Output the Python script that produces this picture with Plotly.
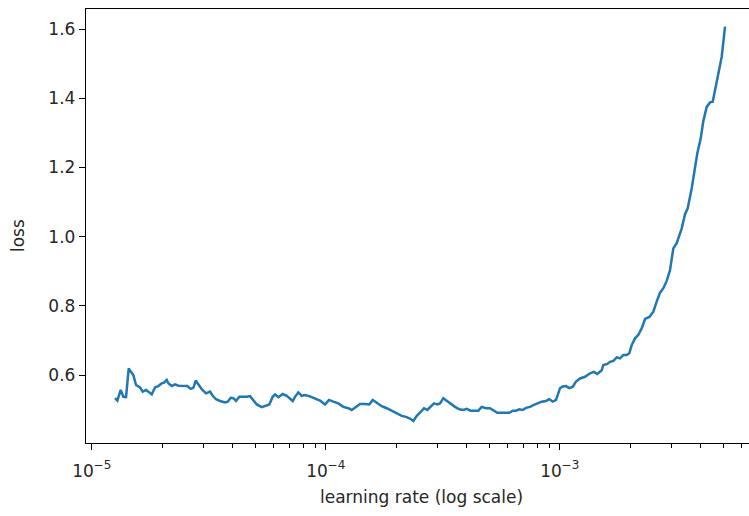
import plotly.graph_objects as go

# Learning-rate range test: loss recorded at each learning rate
learning_rate = [
    1.258e-5, 1.287e-5, 1.330e-5, 1.365e-5, 1.402e-5, 1.439e-5, 1.468e-5, 1.506e-5,
    1.547e-5, 1.609e-5, 1.652e-5, 1.707e-5, 1.746e-5, 1.805e-5, 1.865e-5, 1.926e-5,
    1.992e-5, 2.037e-5, 2.092e-5, 2.125e-5, 2.197e-5, 2.270e-5, 2.345e-5, 2.463e-5,
    2.562e-5, 2.649e-5, 2.718e-5, 2.783e-5, 2.855e-5, 2.952e-5, 3.080e-5, 3.204e-5,
    3.290e-5, 3.398e-5, 3.535e-5, 3.713e-5, 3.813e-5, 3.927e-5, 4.029e-5, 4.138e-5,
    4.275e-5, 4.420e-5, 4.598e-5, 4.750e-5, 4.906e-5, 5.073e-5, 5.329e-5, 5.505e-5,
    5.741e-5, 5.936e-5, 6.072e-5, 6.272e-5, 6.550e-5, 6.813e-5, 6.990e-5, 7.228e-5,
    7.393e-5, 7.637e-5, 7.896e-5, 8.156e-5, 8.510e-5, 9.000e-5, 9.455e-5, 9.931e-5,
    1.033e-4, 1.078e-4, 1.132e-4, 1.189e-4, 1.249e-4, 1.291e-4, 1.347e-4, 1.402e-4,
    1.472e-4, 1.536e-4, 1.588e-4, 1.652e-4, 1.735e-4, 1.823e-4, 1.915e-4, 2.012e-4,
    2.113e-4, 2.203e-4, 2.292e-4, 2.368e-4, 2.449e-4, 2.529e-4, 2.630e-4, 2.718e-4,
    2.810e-4, 2.903e-4, 2.999e-4, 3.080e-4, 3.181e-4, 3.289e-4, 3.420e-4, 3.569e-4,
    3.723e-4, 3.873e-4, 4.005e-4, 4.165e-4, 4.345e-4, 4.488e-4, 4.641e-4, 4.842e-4,
    5.036e-4, 5.238e-4, 5.411e-4, 5.650e-4, 5.895e-4, 6.089e-4, 6.296e-4, 6.504e-4,
    6.719e-4, 6.947e-4, 7.178e-4, 7.466e-4, 7.713e-4, 8.023e-4, 8.378e-4, 8.740e-4,
    9.029e-4, 9.336e-4, 9.644e-4, 1.003e-3, 1.028e-3, 1.064e-3, 1.099e-3, 1.137e-3,
    1.174e-3, 1.221e-3, 1.283e-3, 1.348e-3, 1.402e-3, 1.448e-3, 1.512e-3, 1.536e-3,
    1.597e-3, 1.641e-3, 1.695e-3, 1.753e-3, 1.811e-3, 1.870e-3, 1.934e-3, 1.984e-3,
    2.032e-3, 2.099e-3, 2.168e-3, 2.242e-3, 2.316e-3, 2.416e-3, 2.512e-3, 2.597e-3,
    2.683e-3, 2.772e-3, 2.866e-3, 2.960e-3, 3.058e-3, 3.162e-3, 3.322e-3, 3.432e-3,
    3.524e-3, 3.665e-3, 3.760e-3, 3.873e-3, 4.005e-3, 4.109e-3, 4.248e-3, 4.389e-3,
    4.507e-3, 4.688e-3, 4.842e-3, 4.924e-3, 5.087e-3,
]
loss = [
    0.533, 0.526, 0.557, 0.537, 0.536, 0.619, 0.610, 0.600,
    0.571, 0.564, 0.552, 0.557, 0.552, 0.544, 0.564, 0.568,
    0.576, 0.578, 0.586, 0.576, 0.568, 0.573, 0.569, 0.569,
    0.568, 0.560, 0.563, 0.584, 0.574, 0.559, 0.547, 0.552,
    0.540, 0.530, 0.525, 0.521, 0.523, 0.534, 0.533, 0.525,
    0.537, 0.536, 0.537, 0.539, 0.528, 0.515, 0.507, 0.511,
    0.515, 0.537, 0.544, 0.536, 0.545, 0.540, 0.533, 0.525,
    0.537, 0.550, 0.540, 0.542, 0.539, 0.533, 0.526, 0.515,
    0.528, 0.523, 0.518, 0.508, 0.504, 0.499, 0.508, 0.516,
    0.516, 0.515, 0.528, 0.520, 0.510, 0.504, 0.497, 0.489,
    0.482, 0.479, 0.474, 0.467, 0.482, 0.491, 0.504, 0.499,
    0.510, 0.518, 0.515, 0.518, 0.533, 0.526, 0.516, 0.508,
    0.501, 0.499, 0.502, 0.497, 0.497, 0.497, 0.508, 0.504,
    0.504, 0.497, 0.491, 0.491, 0.492, 0.491, 0.497, 0.497,
    0.501, 0.499, 0.505, 0.508, 0.513, 0.518, 0.523, 0.525,
    0.530, 0.523, 0.528, 0.562, 0.567, 0.568, 0.562, 0.566,
    0.581, 0.590, 0.595, 0.605, 0.609, 0.603, 0.614, 0.629,
    0.632, 0.638, 0.641, 0.651, 0.648, 0.658, 0.658, 0.663,
    0.687, 0.706, 0.716, 0.735, 0.762, 0.768, 0.783, 0.812,
    0.838, 0.851, 0.872, 0.903, 0.966, 0.981, 1.024, 1.065,
    1.082, 1.140, 1.188, 1.241, 1.284, 1.334, 1.375, 1.388,
    1.390, 1.453, 1.501, 1.520, 1.607,
]

x_major = [1e-5, 1e-4, 1e-3]
x_major_text = ["10<sup>−5</sup>", "10<sup>−4</sup>", "10<sup>−3</sup>"]
x_minor = [m * d for d in (1e-5, 1e-4, 1e-3) for m in range(2, 10)]
y_ticks = [0.6, 0.8, 1.0, 1.2, 1.4, 1.6]
y_tick_text = ["0.6", "0.8", "1.0", "1.2", "1.4", "1.6"]

FONT = "DejaVu Sans"
TEXT = "#262626"

fig = go.Figure(
    go.Scatter(
        x=learning_rate,
        y=loss,
        mode="lines",
        line=dict(color="#1f77b4", width=2.5),
        hoverinfo="skip",
    )
)

fig.update_layout(
    width=749,
    height=516,
    margin=dict(l=86, r=0, t=9, b=73),
    paper_bgcolor="white",
    plot_bgcolor="white",
    showlegend=False,
    font=dict(family=FONT, size=17, color=TEXT),
)

fig.update_xaxes(
    type="log",
    range=[-5.0244, -2.1911],
    tickmode="array",
    tickvals=x_major,
    ticktext=x_major_text,
    ticks="outside",
    ticklen=6,
    tickwidth=1.4,
    tickcolor="black",
    ticklabelstandoff=6,
    showline=True,
    linecolor="black",
    linewidth=1.4,
    mirror=True,
    showgrid=False,
    zeroline=False,
    tickfont=dict(family=FONT, size=17, color=TEXT),
    minor=dict(
        tickmode="array",
        tickvals=x_minor,
        ticks="outside",
        ticklen=3.5,
        tickwidth=1.2,
        tickcolor="black",
        showgrid=False,
    ),
)

fig.update_yaxes(
    range=[0.4035, 1.658],
    tickmode="array",
    tickvals=y_ticks,
    ticktext=y_tick_text,
    ticks="outside",
    ticklen=6,
    tickwidth=1.4,
    tickcolor="black",
    showline=True,
    linecolor="black",
    linewidth=1.4,
    mirror=False,
    showgrid=False,
    zeroline=False,
    tickfont=dict(family=FONT, size=17, color=TEXT),
)

fig.add_annotation(
    text="learning rate (log scale)",
    xref="paper", yref="paper",
    x=(421 - 86) / 663, y=0,
    xanchor="center", yanchor="middle",
    yshift=-(497 - 443),
    showarrow=False,
    font=dict(family=FONT, size=17, color=TEXT),
)
fig.add_annotation(
    text="loss",
    xref="paper", yref="paper",
    x=0, y=(443 - 236) / 434,
    xanchor="center", yanchor="middle",
    xshift=-(86 - 18),
    textangle=-90,
    showarrow=False,
    font=dict(family=FONT, size=17, color=TEXT),
)

fig.write_html("out.html")
